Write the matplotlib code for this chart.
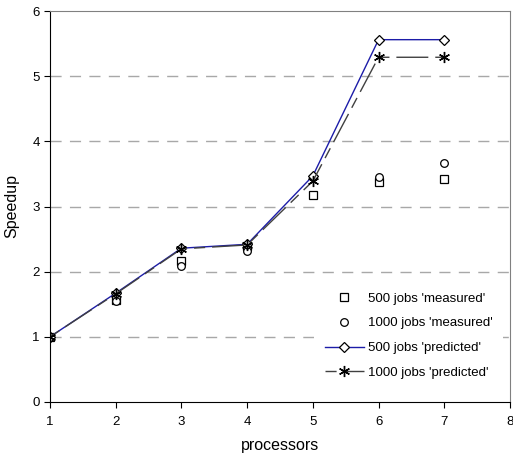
import numpy as np
import matplotlib
matplotlib.use('Agg')
import matplotlib.pyplot as plt

plt.rcParams['font.family'] = ['Liberation Sans', 'DejaVu Sans']

procs = [1, 2, 3, 4, 5, 6, 7]
meas500 = [1.0, 1.56, 2.16, 2.39, 3.18, 3.37, 3.42]
meas1000 = [1.0, 1.55, 2.09, 2.31, 3.45, 3.46, 3.66]
pred500 = [1.0, 1.67, 2.36, 2.42, 3.47, 5.56, 5.56]
pred1000 = [1.0, 1.66, 2.35, 2.41, 3.39, 5.29, 5.29]

fig = plt.figure(figsize=(5.13, 4.59), dpi=100)
ax = fig.add_axes([50/513, 57/459, 460/513, 391/459])

for y in range(1, 6):
    ax.axhline(y, color='#a8a8a8', lw=1, dashes=(8, 6), zorder=0)

ax.plot(procs, meas500, ls='none', marker='s', ms=5.5, mfc='white', mec='black',
        mew=0.9, label="500 jobs 'measured'", zorder=3)
ax.plot(procs, meas1000, ls='none', marker='o', ms=5.5, mfc='white', mec='black',
        mew=0.9, label="1000 jobs 'measured'", zorder=3)
ax.plot(procs, pred500, color='#1c1ca8', lw=1, marker='D', ms=5, mfc='white',
        mec='black', mew=0.9, label="500 jobs 'predicted'", zorder=4)
ax.plot(procs, pred1000, color='#404040', lw=1, dashes=(8, 5, 23, 5), marker=(6, 2, 0),
        ms=8, mec='black', mew=1.0, label="1000 jobs 'predicted'", zorder=4)

ax.set_xlim(1, 8)
ax.set_ylim(0, 6)
ax.set_xticks(range(1, 9))
ax.set_yticks(range(0, 7))
ax.tick_params(labelsize=9.5, length=4, direction='out')
ax.tick_params(axis='x', pad=6)
ax.set_xlabel('processors', fontsize=11.5, labelpad=7)
ax.set_ylabel('Speedup', fontsize=11.5, labelpad=9)

for s in ['top', 'right']:
    ax.spines[s].set_color('#808080')
for s in ['left', 'bottom']:
    ax.spines[s].set_color('black')

leg = ax.legend(loc='lower right', bbox_to_anchor=(1.0, 0.015), fontsize=9.5,
                frameon=True, framealpha=1, edgecolor='white', fancybox=False,
                handlelength=3, handletextpad=0.3, labelspacing=0.95, borderpad=0.8)
leg.get_frame().set_linewidth(0)

fig.savefig('out.png', dpi=100)
